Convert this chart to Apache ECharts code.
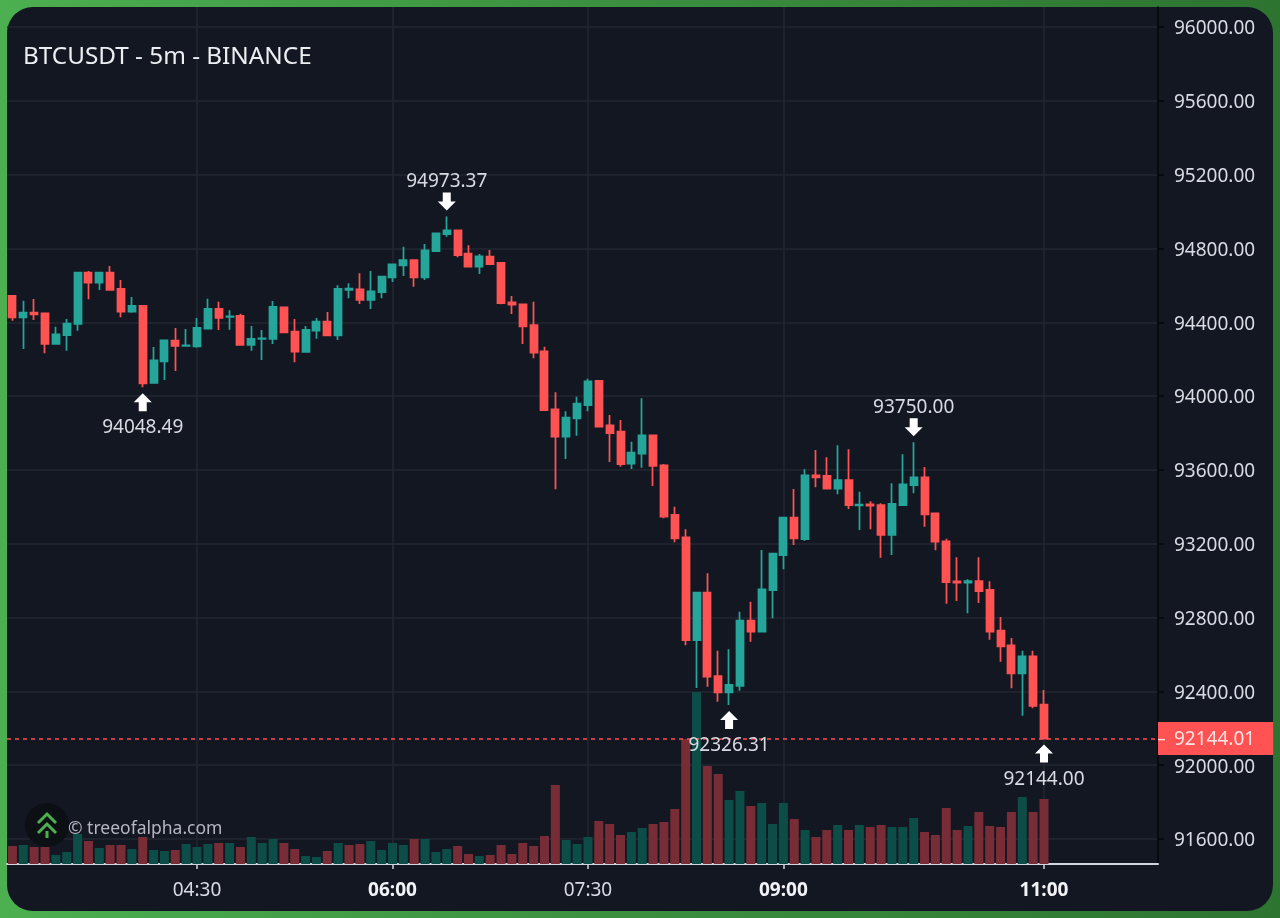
<!DOCTYPE html>
<html>
<head>
<meta charset="utf-8">
<title>BTCUSDT - 5m - BINANCE</title>
<script src="https://cdn.jsdelivr.net/npm/echarts@6/dist/echarts.min.js"></script>
<style>
    html, body { margin: 0; height: 100%; overflow: hidden; background: linear-gradient(90deg, #4caf50 0%, #3c9140 45%, #2d7431 100%); }
    #panel { position: absolute; left: 7px; top: 7px; width: 1266px; height: 904px; background: #131722; border-radius: 26px; }
    #chart { position: absolute; left: 0; top: 0; width: 1280px; height: 918px; }
</style>
</head>
<body>
<div id="panel"></div>
<div id="chart"></div>
<script>
// values, one entry per 5m candle starting 03:05
var opens = [
    94542.4, 94426.8, 94452.1, 94448.5, 94282.3, 94331.0, 94390.7, 94668.8, 94614.7, 94668.8, 94580.3, 94457.5,
    94488.2, 94071.0, 94188.4, 94300.4, 94271.5, 94269.7, 94365.4, 94472.0, 94428.6, 94434.0, 94276.9, 94309.4,
    94309.4, 94481.0, 94349.2, 94239.0, 94354.6, 94403.3, 94329.3, 94576.0, 94578.5, 94520.7, 94564.0, 94643.5,
    94708.5, 94737.4, 94643.5, 94786.2, 94878.3, 94898.2, 94771.7, 94701.3, 94755.5, 94721.2, 94508.0, 94497.2,
    94385.2, 94242.5, 93928.2, 93780.1, 93879.5, 93951.7, 94081.8, 93841.5, 93807.2, 93633.8, 93688.0, 93787.4,
    93624.8, 93355.7, 93234.6, 92678.3, 92934.8, 92483.2, 92394.8, 92429.1, 92783.1, 92723.5, 92949.2, 93138.9,
    93341.2, 93225.6, 93570.6, 93567.0, 93498.4, 93545.3, 93408.0, 93413.4, 93409.8, 93247.3, 93409.8, 93518.2,
    93559.8, 93364.7, 93213.0, 92996.2, 92989.0, 92998.0, 92949.3, 92728.9, 92649.4, 92497.7, 92589.8, 92327.9
];
var closes = [
    94426.8, 94452.1, 94443.0, 94282.3, 94334.7, 94392.5, 94668.8, 94614.7, 94668.8, 94574.9, 94457.5, 94488.2,
    94069.2, 94193.8, 94302.2, 94271.5, 94275.1, 94369.0, 94472.0, 94423.2, 94432.2, 94276.9, 94309.4, 94313.0,
    94482.8, 94345.5, 94240.8, 94358.2, 94403.3, 94329.3, 94580.3, 94582.0, 94520.7, 94567.6, 94647.1, 94713.9,
    94737.4, 94643.5, 94789.8, 94881.9, 94898.2, 94764.5, 94701.3, 94757.3, 94715.7, 94504.4, 94495.4, 94378.0,
    94235.3, 93924.6, 93780.1, 93883.1, 93958.9, 94080.0, 93834.3, 93800.0, 93632.0, 93693.4, 93787.4, 93621.2,
    93346.6, 93229.2, 92678.3, 92934.8, 92479.6, 92394.8, 92434.5, 92783.1, 92723.5, 92952.9, 93146.1, 93341.2,
    93229.2, 93570.6, 93559.8, 93498.4, 93545.3, 93409.8, 93411.6, 93406.2, 93247.3, 93415.3, 93521.8, 93559.8,
    93359.3, 93211.2, 92992.6, 92989.0, 92998.0, 92943.8, 92723.5, 92644.0, 92497.7, 92589.8, 92320.7, 92144.0
];
var lows = [
    94408.8, 94255.2, 94412.4, 94231.7, 94282.3, 94246.2, 94354.6, 94524.4, 94574.9, 94574.9, 94426.8, 94452.1,
    94048.49, 94071.0, 94087.3, 94136.0, 94271.5, 94262.5, 94365.4, 94358.2, 94360.0, 94276.9, 94246.2, 94195.6,
    94282.3, 94345.5, 94183.0, 94235.4, 94311.2, 94329.3, 94304.0, 94529.7, 94499.0, 94471.9, 94529.7, 94618.2,
    94650.7, 94593.0, 94629.0, 94786.2, 94863.9, 94751.9, 94701.3, 94661.6, 94715.7, 94497.2, 94444.8, 94282.3,
    94204.6, 93924.6, 93494.8, 93659.1, 93785.5, 93917.4, 93834.3, 93642.8, 93617.6, 93604.9, 93612.2, 93512.9,
    93337.6, 93207.6, 92649.4, 92418.2, 92425.4, 92344.2, 92326.31, 92403.8, 92669.3, 92723.5, 92795.7, 93061.2,
    93193.1, 93216.6, 93505.6, 93498.4, 93467.6, 93388.2, 93274.4, 93278.0, 93124.5, 93138.9, 93409.8, 93473.1,
    93292.4, 93164.2, 92875.2, 92889.6, 92822.8, 92878.8, 92680.1, 92561.0, 92416.4, 92268.3, 92308.0, 92144.0
];
var highs = [
    94546.0, 94517.1, 94526.2, 94448.5, 94376.2, 94417.8, 94668.8, 94677.9, 94668.8, 94705.0, 94629.1, 94537.0,
    94491.8, 94266.0, 94302.2, 94369.0, 94363.6, 94423.2, 94528.0, 94511.7, 94464.7, 94446.7, 94379.8, 94358.2,
    94515.3, 94481.0, 94417.8, 94379.8, 94423.2, 94455.7, 94600.2, 94611.0, 94665.2, 94677.8, 94647.1, 94713.9,
    94809.7, 94737.4, 94824.1, 94881.9, 94973.37, 94898.2, 94816.9, 94770.0, 94791.6, 94721.2, 94542.4, 94497.2,
    94511.7, 94267.8, 94020.4, 93917.4, 93996.9, 94094.4, 94081.8, 93897.5, 93870.4, 93753.0, 93987.9, 93787.4,
    93632.0, 93400.8, 93278.0, 92934.8, 93039.6, 92620.5, 92627.8, 92831.9, 92886.0, 93166.0, 93146.1, 93341.2,
    93496.5, 93603.1, 93707.9, 93668.1, 93733.2, 93711.5, 93482.1, 93429.7, 93418.9, 93527.3, 93684.4, 93750.0,
    93615.8, 93364.7, 93227.4, 93126.3, 93007.0, 93126.3, 92996.2, 92803.0, 92689.2, 92620.5, 92620.5, 92407.4
];
// volume has no scale on the chart, so these are relative units
var volumes = [
    18, 19, 17, 17, 9, 12, 30, 23, 16, 19, 19, 15,
    27, 14, 13, 14, 20, 17, 20, 21, 21, 17, 27, 21,
    25, 21, 15, 8, 7, 13, 21, 19, 20, 23, 14, 21,
    19, 25, 25, 12, 15, 18, 10, 8, 9, 19, 10, 21,
    18, 28, 79, 24, 20, 27, 43, 40, 29, 32, 36, 40,
    42, 55, 125, 172, 98, 90, 64, 73, 58, 61, 40, 61,
    45, 34, 27, 34, 39, 34, 39, 37, 39, 37, 37, 46,
    32, 29, 56, 34, 38, 52, 38, 37, 52, 67, 52, 65
];
var redVolumeOnGreenCandle = [31];

var emptySlots = 10;
var tickLabels = ['04:30', '06:00', '07:30', '09:00', '11:00'];
var boldLabels = ['06:00', '09:00', '11:00'];

var extremeIndexes = [12, 40, 66, 83, 95];
var extremePrices = [94048.49, 94973.37, 92326.31, 93750.00, 92144.00];
var extremeSides = ['low', 'high', 'low', 'high', 'low'];

var lastPrice = 92144.01;

var FONT = '"Noto Sans", sans-serif';
var UP = '#26a69a';
var DOWN = '#ff5252';
var UP_VOL = '#0c4d48';
var DOWN_VOL = '#782c35';
var GRID_LINE = '#232732';
var TEXT = '#d9dbe2';

var ARROW_DOWN = 'path://M5,0 H13 V9 H18 L9,18 L0,9 H5 Z';
var ARROW_UP = 'path://M9,0 L18,9 H13 V18 H5 V9 H0 Z';

// time categories, including the empty slots right of the last candle
var categories = [];
for (var i = 0; i < opens.length + emptySlots; i++) {
    var minutes = 3 * 60 + 5 + i * 5;
    var hh = Math.floor(minutes / 60);
    var mm = minutes % 60;
    categories.push((hh < 10 ? '0' : '') + hh + ':' + (mm < 10 ? '0' : '') + mm);
}

var candleData = opens.map(function(open, idx) {
    return [open, closes[idx], lows[idx], highs[idx]];
});

var volumeData = volumes.map(function(v, idx) {
    var up = closes[idx] >= opens[idx] && redVolumeOnGreenCandle.indexOf(idx) < 0;
    return { value: v, itemStyle: { color: up ? UP_VOL : DOWN_VOL } };
});

var extremeData = extremeIndexes.map(function(idx, n) {
    var high = extremeSides[n] === 'high';
    return {
        coord: [idx, extremePrices[n]],
        value: extremePrices[n],
        symbol: high ? ARROW_DOWN : ARROW_UP,
        symbolOffset: [0, high ? -15 : 15],
        label: { position: high ? 'top' : 'bottom', distance: high ? 1 : 7 }
    };
});

function isTickLabel(idx, value) {
    return tickLabels.indexOf(value) >= 0;
}

var myChart = echarts.init(document.getElementById('chart'));

var option = {
    animation: false,
    backgroundColor: 'transparent',
    textStyle: { fontFamily: FONT },
    title: {
        text: 'BTCUSDT - 5m - BINANCE',
        left: 18,
        top: 40,
        textStyle: { color: '#eceef2', fontSize: 24.3, fontWeight: 'normal', fontFamily: FONT }
    },
    grid: [
        // price grid spans 96000 to 91600 exactly
        { left: 7, right: 122, top: 27, height: 812 },
        // full pane: volume, time axis and vertical lines
        { left: 7, right: 122, top: 7, height: 857 }
    ],
    xAxis: [
        {
            type: 'category',
            gridIndex: 0,
            data: categories,
            show: false
        },
        {
            type: 'category',
            gridIndex: 1,
            data: categories,
            axisLine: { show: true, lineStyle: { color: '#d1d4dc', width: 2 } },
            axisTick: { show: true, interval: isTickLabel, alignWithLabel: true, length: 5, lineStyle: { color: '#d1d4dc', width: 1.5 } },
            splitLine: { show: true, interval: isTickLabel, alignWithLabel: true, lineStyle: { color: GRID_LINE, width: 1.5 } },
            axisLabel: {
                interval: isTickLabel,
                margin: 17,
                color: TEXT,
                fontSize: 19,
                fontFamily: FONT,
                formatter: function(value) {
                    return boldLabels.indexOf(value) >= 0 ? '{b|' + value + '}' : value;
                },
                rich: {
                    b: { color: '#f2f3f6', fontSize: 19, fontWeight: 'bold', fontFamily: FONT }
                }
            }
        }
    ],
    yAxis: [
        {
            type: 'value',
            gridIndex: 0,
            position: 'right',
            min: 91600,
            max: 96000,
            interval: 400,
            axisLine: { show: false },
            axisTick: { show: true, length: 6, lineStyle: { color: '#05070a', width: 1.5 } },
            splitLine: { show: true, lineStyle: { color: GRID_LINE, width: 1.5 } },
            axisLabel: {
                margin: 16,
                formatter: function(value) { return '{v|' + value.toFixed(2) + '}'; },
                rich: {
                    v: { color: TEXT, fontSize: 19, fontFamily: FONT, padding: [4, 0, 0, 0] }
                }
            }
        },
        {
            type: 'value',
            gridIndex: 1,
            position: 'right',
            min: 0,
            max: 857,
            axisLine: { show: true, lineStyle: { color: '#05070a', width: 1.5 } },
            axisTick: { show: false },
            axisLabel: { show: false },
            splitLine: { show: false }
        }
    ],
    series: [
        {
            name: 'Volume',
            type: 'bar',
            xAxisIndex: 1,
            yAxisIndex: 1,
            barWidth: 9,
            data: volumeData,
            z: 2
        },
        {
            name: 'BTCUSDT',
            type: 'candlestick',
            xAxisIndex: 0,
            yAxisIndex: 0,
            barWidth: 7.5,
            clip: false,
            z: 3,
            itemStyle: {
                color: UP,
                color0: DOWN,
                borderColor: UP,
                borderColor0: DOWN,
                borderWidth: 1.75
            },
            data: candleData,
            markPoint: {
                symbolSize: 18,
                silent: true,
                itemStyle: { color: '#ffffff' },
                label: {
                    show: true,
                    color: TEXT,
                    fontSize: 19,
                    fontFamily: FONT,
                    formatter: function(p) { return p.value.toFixed(2); }
                },
                data: extremeData
            },
            markLine: {
                silent: true,
                symbol: 'none',
                lineStyle: { color: DOWN, type: [4, 4], width: 1.5 },
                label: {
                    show: true,
                    position: 'end',
                    distance: 0,
                    backgroundColor: DOWN,
                    padding: [8, 18, 6, 0],
                    formatter: function() { return '{t|}{v|' + lastPrice.toFixed(2) + '}'; },
                    rich: {
                        t: { width: 7, height: 1.5, backgroundColor: '#ffd9d9' },
                        v: { color: '#ffe3e3', fontSize: 19, fontFamily: FONT, padding: [0, 0, 0, 9] }
                    }
                },
                data: [{ yAxis: lastPrice }]
            }
        }
    ],
    graphic: [
        { type: 'circle', z: 20, shape: { cx: 47, cy: 825, r: 22 }, style: { fill: '#0c0f14' } },
        { type: 'polyline', z: 21, shape: { points: [[38, 823], [47, 814], [56, 823]] }, style: { stroke: '#4caf50', lineWidth: 3, fill: null } },
        { type: 'polyline', z: 21, shape: { points: [[38, 833], [47, 824], [56, 833]] }, style: { stroke: '#4caf50', lineWidth: 3, fill: null } },
        { type: 'line', z: 21, shape: { x1: 47, y1: 831, x2: 47, y2: 838 }, style: { stroke: '#4caf50', lineWidth: 3 } },
        {
            type: 'text',
            z: 21,
            left: 68,
            top: 820,
            style: { text: '\u00a9 treeofalpha.com', fill: '#b4b7c0', fontSize: 17.5, fontFamily: FONT }
        }
    ]
};

myChart.setOption(option);
</script>
</body>
</html>
